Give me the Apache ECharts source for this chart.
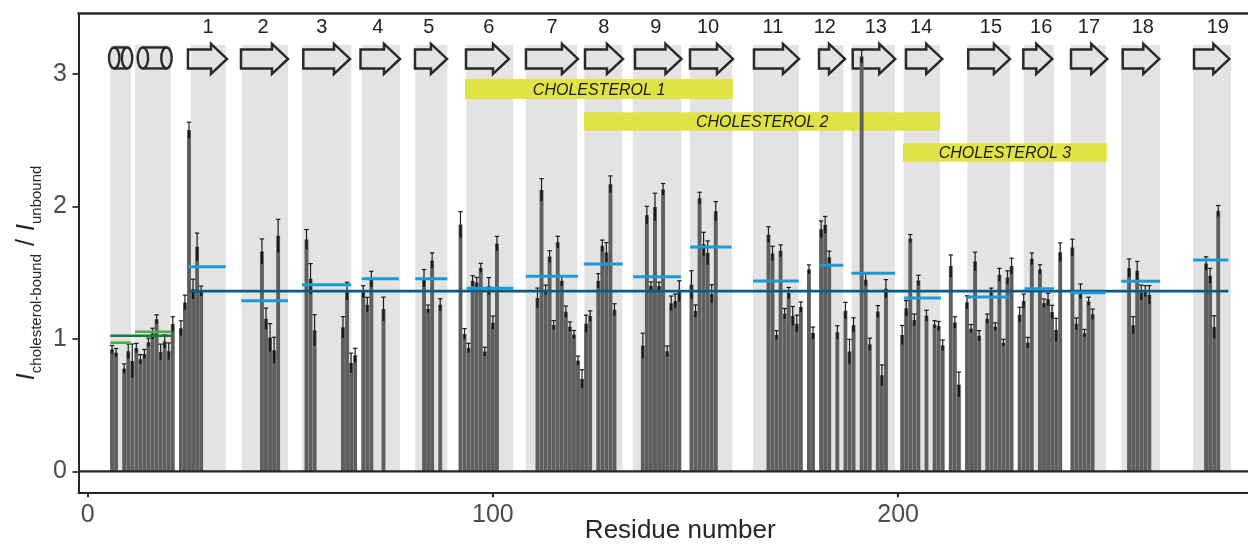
<!DOCTYPE html>
<html><head><meta charset="utf-8">
<style>html,body{margin:0;padding:0;background:#fff}#c{width:1248px;height:544px}</style>
<script src="https://cdn.jsdelivr.net/npm/echarts@6/dist/echarts.min.js"></script>
</head><body><div id="c"></div>
<script>
const residues=[6,7,9,10,11,12,13,14,15,16,17,18,19,20,21,23,24,25,26,27,28,43,44,45,46,47,54,55,56,63,64,65,66,68,69,70,73,83,84,85,87,92,93,94,95,96,97,98,99,100,101,111,112,113,114,115,116,117,118,119,120,121,122,123,124,126,127,128,129,130,137,138,139,140,141,142,143,144,145,146,149,150,151,152,153,154,155,168,169,170,171,172,173,174,175,176,178,179,181,182,183,185,187,188,189,191,192,193,195,196,197,201,202,203,204,205,207,209,210,211,213,214,215,217,218,219,220,222,223,224,225,226,227,228,230,231,232,233,235,236,237,238,239,240,243,244,245,246,247,248,257,258,259,260,261,262,276,277,278,279];
const ratios=[.92,.896,.776,.906,.833,.931,.846,.886,.974,1.04,1.147,.90,.98,.906,1.112,1.08,1.275,2.575,1.375,1.694,1.36,1.659,1.152,1.01,.914,1.777,1.75,1.453,1.064,1.087,1.36,.818,.876,1.355,1.257,1.45,1.225,1.458,1.227,1.591,1.258,1.862,1.037,.931,1.438,1.426,1.536,.904,1.398,1.122,1.719,1.308,2.124,1.37,1.621,1.104,1.729,1.438,1.205,1.092,1.032,.836,.698,1.114,1.172,1.438,1.702,1.652,2.166,1.22,.949,1.933,1.40,1.995,1.398,2.128,.906,1.268,1.285,1.36,1.408,1.21,2.061,1.714,1.649,1.34,1.963,1.787,1.644,1.029,1.664,1.19,1.345,1.172,1.114,1.24,1.524,1.044,1.827,1.86,1.616,1.049,1.212,.904,1.104,3.13,1.446,.959,1.207,.725,1.378,1.029,1.23,1.757,1.142,1.441,1.175,1.109,1.097,.951,1.549,1.124,.655,1.275,1.077,1.584,1.024,1.152,1.35,1.092,1.483,.971,1.463,1.549,1.182,1.285,.971,1.604,1.524,1.27,1.298,1.202,1.067,1.654,1.689,1.114,1.358,1.042,1.283,1.185,1.534,1.102,1.514,1.35,1.36,1.333,1.569,1.476,1.089,1.965];
const errors=[.03,.031,.035,.056,.128,.035,.035,.034,.031,.04,.034,.06,.05,.063,.055,.056,.055,.06,.075,.104,.038,.095,.08,.105,.098,.125,.075,.115,.118,.08,.067,.074,.053,.046,.056,.06,.09,.065,.028,.058,.045,.098,.04,.035,.038,.038,.034,.033,.064,.05,.054,.075,.085,.036,.044,.034,.045,.038,.043,.036,.031,.034,.069,.065,.039,.054,.043,.074,.063,.045,.094,.067,.03,.104,.03,.044,.04,.055,.053,.078,.106,.046,.045,.09,.09,.068,.073,.059,.055,.033,.045,.039,.043,.072,.065,.039,.034,.045,.063,.064,.046,.05,.063,.092,.055,.05,.045,.046,.044,.078,.069,.072,.059,.03,.046,.039,.041,.028,.034,.04,.084,.043,.094,.05,.031,.07,.038,.035,.033,.029,.049,.026,.05,.059,.056,.053,.04,.044,.035,.031,.046,.051,.088,.07,.063,.044,.056,.029,.031,.039,.069,.065,.07,.056,.041,.069,.05,.056,.085,.041];
const bands=[[5.58,10.69],[11.67,20.48],[25.49,34.06],[38,49.43],[52.89,65.05],[67.62,77.07],[80.85,88.75],[93.43,105.03],[108.09,120.76],[122.56,131.94],[134.5,146.5],[148.64,159.08],[164.19,175.47],[180.55,186.48],[188.55,199.23],[201.38,210.34],[217.08,227.62],[231,238.48],[242.6,251.24],[255.08,264.63],[272.78,282.16]];
const strands=[[24.75,34.38],[37.83,49.43],[53.2,64.73],[67.33,77.07],[80.77,88.67],[93.36,103.97],[108.16,120.99],[122.73,132.1],[135.07,146.54],[148.64,159.25],[164.43,175.54],[180.48,186.9],[188.8,199.3],[201.95,210.9],[217.3,227.6],[230.9,238.05],[242.67,251.62],[255.43,264.46],[273.03,281.75]];
const strandNames=['1','2','3','4','5','6','7','8','9','10','11','12','13','14','15','16','17','18','19'];
const strandLabelAt=[29.7,43.3,57.8,71.6,84.2,99,114.6,127.4,140.2,153.1,169.1,181.9,194.5,205.7,222.9,235.3,247.1,260.4,278.9];
const helices=[[5.26,11],[12.34,20.72]];
const cholesterolNames=['CHOLESTEROL 1','CHOLESTEROL 2','CHOLESTEROL 3'];
const cholesterolSpans=[[93.1,159.3,2.81,2.96],[122.5,210.4,2.571,2.709],[201.2,251.5,2.337,2.475]];
const strandMeans=[[24.68,34.06,1.544],[37.9,49.43,1.288],[52.89,65.05,1.408],[67.62,76.8,1.454],[80.85,88.75,1.454],[93.5,105.03,1.381],[108.09,121,1.472],[122.5,132,1.565],[134.6,146.4,1.469],[148.64,158.9,1.693],[164.19,175.47,1.436],[180.55,186.48,1.555],[188.45,199.23,1.494],[201.5,210.6,1.308],[217.08,227.62,1.315],[231.2,238.48,1.378],[242.6,251.24,1.348],[255.08,264.63,1.434],[272.85,281.5,1.595]];
const helixMeans=[[5.58,10.69,.971],[11.67,20.6,1.054]];
const helixOverall=[[5.58,20.8,1.023]];
const strandOverall=[[25.07,281.5,1.36]];
const xTicks=[0,100,200], yTicks=[0,1,2,3];
const xMin=-2.27,xMax=286.35,yMin=-.158,yMax=3.455;
const bandTop=3.217, arrowY=3.112, numberY=3.353;

const gray='#4d4d4d', ink='#262626';
const segSeries=(data,color,width,z)=>({type:'custom',data,z,silent:true,encode:{x:[0,1],y:2},
  renderItem:(p,api)=>{const a=api.coord([api.value(0),api.value(2)]),b=api.coord([api.value(1),api.value(2)]);
    return {type:'line',shape:{x1:a[0],y1:a[1],x2:b[0],y2:b[1]},style:{stroke:color,lineWidth:width,fill:null}};}});

const option={animation:false,
 grid:{left:78.5,right:0,top:13.5,bottom:51.7,containLabel:false,outerBoundsMode:'none'},
 xAxis:[{type:'value',min:xMin,max:xMax,position:'bottom',splitLine:{show:false},
   axisLine:{show:true,onZero:false,lineStyle:{color:ink,width:2}},
   axisTick:{show:true,length:5,customValues:xTicks,lineStyle:{color:ink,width:2}},
   axisLabel:{customValues:xTicks,fontFamily:'Liberation Sans',fontSize:25,color:gray,margin:10,showMinLabel:true,showMaxLabel:true},
   name:'Residue number',nameLocation:'middle',nameGap:39,nameMoveOverlap:false,nameTextStyle:{fontFamily:'Liberation Sans',fontSize:26,color:ink,verticalAlign:'middle',padding:[0,0,0,34]}},
  {type:'value',min:xMin,max:xMax,position:'top',splitLine:{show:false},
   axisLine:{show:true,onZero:false,lineStyle:{color:ink,width:2.5}},axisTick:{show:false},axisLabel:{show:false}}],
 yAxis:{type:'value',min:yMin,max:yMax,splitLine:{show:false},
   axisLine:{show:true,onZero:false,lineStyle:{color:ink,width:2}},
   axisTick:{show:true,length:6,customValues:yTicks,lineStyle:{color:'#444',width:2}},
   axisLabel:{customValues:yTicks,fontFamily:'Liberation Sans',fontSize:25,color:gray,margin:11.5},
   name:'{i|I}{s|cholesterol-bound}{n|/}{i|I}{s|unbound}',nameLocation:'middle',nameGap:36,nameRotate:90,nameMoveOverlap:false,
   nameTextStyle:{fontFamily:'Liberation Sans',color:ink,padding:[0,40,0,0],rich:{
     i:{fontFamily:'Liberation Sans',fontSize:25,fontStyle:'italic',color:ink,verticalAlign:'bottom',lineHeight:30,height:30},
     n:{fontFamily:'Liberation Sans',fontSize:25,color:ink,verticalAlign:'bottom',lineHeight:30,height:30,padding:[0,8,0,8]},
     s:{fontFamily:'Liberation Sans',fontSize:15,color:ink,verticalAlign:'bottom',lineHeight:18,height:18,padding:[0,0,-3,0]}}}},
 series:[
  {type:'custom',data:bands,z:1,silent:true,encode:{x:[0,1]},renderItem:(p,api)=>{
    const a=api.coord([api.value(0),bandTop]),b=api.coord([api.value(1),0]);
    return {type:'rect',shape:{x:a[0],y:a[1],width:b[0]-a[0],height:b[1]-a[1]},style:{fill:'#e4e3e2'}};}},
  {type:'custom',data:cholesterolSpans,z:2,silent:true,encode:{x:[0,1],y:[2,3]},renderItem:(p,api)=>{
    const a=api.coord([api.value(0),api.value(3)]),b=api.coord([api.value(1),api.value(2)]);
    return {type:'group',children:[
     {type:'rect',shape:{x:a[0],y:a[1],width:b[0]-a[0],height:b[1]-a[1]},style:{fill:'#e0e345'}},
     {type:'text',style:{x:(a[0]+b[0])/2,y:(a[1]+b[1])/2+1.5,text:cholesterolNames[p.dataIndex],fontFamily:'Liberation Sans',fontStyle:'italic',fontSize:16,fill:'#1a1a1a',align:'center',verticalAlign:'middle'}}]};}},
  {type:'custom',data:strands,z:3,silent:true,encode:{x:[0,1]},renderItem:(p,api)=>{
    const a=api.coord([api.value(0),arrowY]),b=api.coord([api.value(1),arrowY]);
    const y=a[1],h=9.5,H=15,head=b[0]-16;
    return {type:'polygon',shape:{points:[[a[0],y-h],[head,y-h],[head,y-H],[b[0],y],[head,y+H],[head,y+h],[a[0],y+h]]},
      style:{fill:null,stroke:'#2a2a2a',lineWidth:2.5,lineJoin:'miter'}};}},
  {type:'custom',data:helices,z:3,silent:true,encode:{x:[0,1]},renderItem:(p,api)=>{
    const a=api.coord([api.value(0),arrowY]),b=api.coord([api.value(1),arrowY]);
    const y=a[1]-1,ry=10.5,rx=5.2;
    const st={fill:null,stroke:'#2a2a2a',lineWidth:2.4};
    return {type:'group',children:[
      {type:'ellipse',shape:{cx:a[0]+rx,cy:y,rx,ry},style:st},
      {type:'ellipse',shape:{cx:b[0]-rx,cy:y,rx,ry},style:st},
      {type:'line',shape:{x1:a[0]+rx,y1:y-ry,x2:b[0]-rx,y2:y-ry},style:st},
      {type:'line',shape:{x1:a[0]+rx,y1:y+ry,x2:b[0]-rx,y2:y+ry},style:st}]};}},
  {type:'custom',data:strandLabelAt.map(v=>[v,numberY]),z:3,silent:true,encode:{x:0,y:1},renderItem:(p,api)=>{
    const a=api.coord([api.value(0),api.value(1)]);
    return {type:'text',style:{x:a[0],y:a[1],text:strandNames[p.dataIndex],fontFamily:'Liberation Sans',fontSize:20,fill:'#222',align:'center',verticalAlign:'middle'}};}},
  {type:'bar',data:residues.map((r,i)=>[r,ratios[i]]),barWidth:3.9,barGap:'-100%',z:4,silent:true,
    itemStyle:{color:'#5f5f5f'}},
  {type:'custom',data:residues.map((r,i)=>[r,ratios[i],errors[i]]),z:5,silent:true,encode:{x:0,y:[1]},renderItem:(p,api)=>{
    const v=api.value(1),e=api.value(2),x=api.coord([api.value(0),v])[0];
    const t=api.coord([0,v+e])[1],m=api.coord([0,v])[1],l=api.coord([0,v-e])[1];
    const thin={stroke:'#1a1a1a',lineWidth:1.2,fill:null},thick={stroke:'#1a1a1a',lineWidth:2.2,fill:null};
    return {type:'group',children:[
      {type:'line',shape:{x1:x,y1:t,x2:x,y2:m},style:thin},
      {type:'line',shape:{x1:x,y1:m,x2:x,y2:l},style:thick},
      {type:'line',shape:{x1:x-2.2,y1:t,x2:x+2.2,y2:t},style:thin}]};}},
  segSeries([[xMin,xMax,0]],ink,2.4,6),
  segSeries(strandOverall,'#0b5c84',2.6,6),
  segSeries(strandMeans,'#1a9bd7',3,7),
  segSeries(helixMeans,'#4fae4a',2.6,7),
  segSeries(helixOverall,'#157a3c',2.6,7)
 ]};
const chart=echarts.init(document.getElementById('c'),null,{renderer:'canvas'});
chart.setOption(option);
</script></body></html>
